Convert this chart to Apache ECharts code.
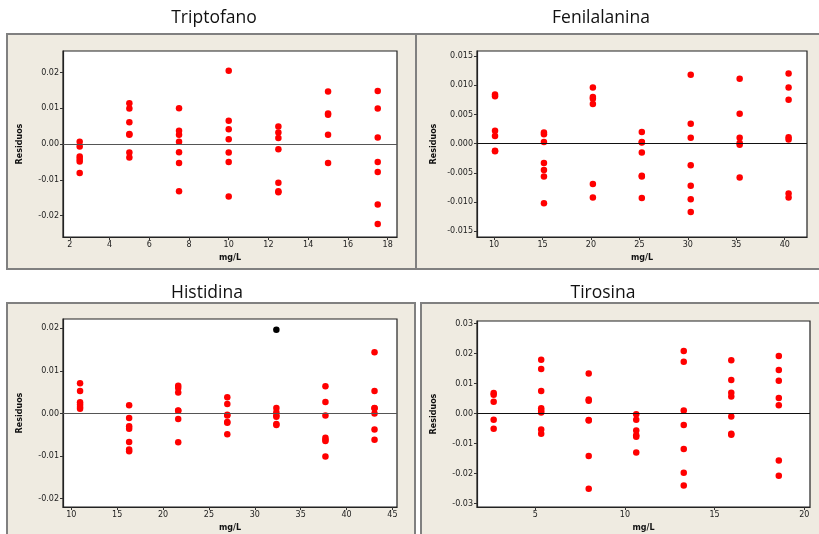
<!DOCTYPE html>
<html>
<head>
<meta charset="utf-8">
<script src="https://cdn.jsdelivr.net/npm/echarts@6/dist/echarts.min.js"></script>
<style>
  html, body { margin: 0; padding: 0; background: #ffffff; }
  #chart { width: 819px; height: 534px; }
</style>
</head>
<body>
<div id="chart"></div>
<script>
// Residual plots (residuos vs. concentración, mg/L) for four amino acids.

// Triptofano
const tripX = [2.5, 5, 7.5, 10, 12.5, 15, 17.5];
const tripRes = [
  [0.0006, -0.0007, -0.0035, -0.0042, -0.0049, -0.0081],
  [0.0114, 0.0099, 0.0061, 0.0028, 0.0026, -0.0024, -0.0038],
  [0.0100, 0.0037, 0.0026, 0.0006, -0.0023, -0.0053, -0.0132],
  [0.0205, 0.0065, 0.0041, 0.0013, -0.0024, -0.0050, -0.0147],
  [0.0049, 0.0032, 0.0017, -0.0015, -0.0108, -0.0132, -0.0135],
  [0.0147, 0.0085, 0.0082, 0.0026, -0.0053],
  [0.0148, 0.0099, 0.0018, -0.0050, -0.0078, -0.0169, -0.0224]
];
const tripXTicks = [2, 4, 6, 8, 10, 12, 14, 16, 18];
const tripYTicks = [-0.02, -0.01, 0, 0.01, 0.02];

// Fenilalanina
const fenX = [10.1, 15.15, 20.2, 25.25, 30.3, 35.35, 40.4];
const fenRes = [
  [0.0084, 0.0081, 0.0022, 0.0013, -0.0012, -0.0013],
  [0.0019, 0.0016, 0.0003, -0.0033, -0.0045, -0.0056, -0.0102],
  [0.0096, 0.0080, 0.0077, 0.0068, -0.0069, -0.0092],
  [0.0020, 0.0003, 0.0002, -0.0015, -0.0055, -0.0056, -0.0093],
  [0.0118, 0.0034, 0.0010, -0.0037, -0.0072, -0.0095, -0.0117],
  [0.0111, 0.0051, 0.0010, 0.0001, -0.0002, -0.0058],
  [0.0120, 0.0096, 0.0075, 0.0011, 0.0007, -0.0085, -0.0092]
];
const fenXTicks = [10, 15, 20, 25, 30, 35, 40];
const fenYTicks = [-0.015, -0.010, -0.005, 0, 0.005, 0.010, 0.015];

// Histidina
const hisX = [10.95, 16.3, 21.65, 27.0, 32.35, 37.7, 43.05];
const hisRes = [
  [0.0071, 0.0053, 0.0026, 0.0021, 0.0015, 0.0011],
  [0.0019, -0.0011, -0.0030, -0.0036, -0.0067, -0.0085, -0.0089],
  [0.0065, 0.0060, 0.0049, 0.0007, 0.0006, -0.0013, -0.0068],
  [0.0038, 0.0022, -0.0003, -0.0005, -0.0020, -0.0022, -0.0049],
  [0.0013, 0.0003, -0.0005, -0.0008, -0.0025, -0.0027],
  [0.0064, 0.0027, -0.0005, -0.0057, -0.0062, -0.0065, -0.0101],
  [0.0144, 0.0053, 0.0013, 0.0012, 0.0000, -0.0038, -0.0062]
];
// highlighted observation (black)
const hisOutlier = [32.35, 0.0197];
const hisXTicks = [10, 15, 20, 25, 30, 35, 40, 45];
const hisYTicks = [-0.02, -0.01, 0, 0.01, 0.02];

// Tirosina
const tirX = [2.68, 5.33, 7.98, 10.63, 13.28, 15.93, 18.58];
const tirRes = [
  [0.0069, 0.0063, 0.0040, -0.0020, -0.0050],
  [0.0180, 0.0149, 0.0076, 0.0018, 0.0011, 0.0004, -0.0053, -0.0067],
  [0.0134, 0.0047, 0.0043, -0.0021, -0.0023, -0.0141, -0.0250],
  [-0.0002, -0.0020, -0.0056, -0.0072, -0.0077, -0.0129],
  [0.0209, 0.0173, 0.0011, -0.0038, -0.0118, -0.0197, -0.0239],
  [0.0178, 0.0112, 0.0070, 0.0057, -0.0009, -0.0067, -0.0070],
  [0.0192, 0.0146, 0.0110, 0.0052, 0.0028, -0.0156, -0.0207]
];
const tirXTicks = [5, 10, 15, 20];
const tirYTicks = [-0.03, -0.02, -0.01, 0, 0.01, 0.02, 0.03];

const titles = ['Triptofano', 'Fenilalanina', 'Histidina', 'Tirosina'];

// ---- layout ----
const grids = [
  { left: 63, top: 51, width: 334, height: 186 },
  { left: 477, top: 51, width: 330, height: 186 },
  { left: 63, top: 319, width: 334, height: 188 },
  { left: 477, top: 321, width: 333, height: 186 }
];
const xRanges = [[1.66, 18.47], [8.24, 42.3], [9.09, 45.5], [1.75, 20.32]];
const yRanges = [[-0.026, 0.026], [-0.01596, 0.01585], [-0.022, 0.0222], [-0.0311, 0.0309]];
const xTicks = [tripXTicks, fenXTicks, hisXTicks, tirXTicks];
const yTicks = [tripYTicks, fenYTicks, hisYTicks, tirYTicks];
const yDigits = [2, 3, 2, 2];
const zeroLineColor = ['#555', '#111', '#555', '#111'];
const titlePos = [[214, 9], [601, 9], [207, 284], [603, 284]];

const pairs = (xs, groups) => {
  const out = [];
  groups.forEach((g, i) => g.forEach(v => out.push([xs[i], v])));
  return out;
};
const panelData = [
  pairs(tripX, tripRes),
  pairs(fenX, fenRes),
  pairs(hisX, hisRes),
  pairs(tirX, tirRes)
];

const tickFont = { fontFamily: 'DejaVu Sans', fontSize: 8, color: '#222' };
const nameFont = { fontFamily: 'DejaVu Sans', fontSize: 8, fontWeight: 'bold', color: '#111' };

const option = {
  animation: false,
  backgroundColor: '#ffffff',
  title: titles.map((t, i) => ({
    text: t,
    left: titlePos[i][0],
    top: titlePos[i][1],
    padding: 0,
    textAlign: 'center',
    textStyle: { fontFamily: 'Open Sans', fontSize: 17.5, fontWeight: 'normal', color: '#111' }
  })),
  graphic: [
    // beige panel frames
    { type: 'rect', z: -10, shape: { x: 7, y: 34, width: 409, height: 235 },
      style: { fill: '#efebe1', stroke: '#808080', lineWidth: 2 } },
    { type: 'rect', z: -10, shape: { x: 416, y: 34, width: 410, height: 235 },
      style: { fill: '#efebe1', stroke: '#808080', lineWidth: 2 } },
    { type: 'rect', z: -10, shape: { x: 7, y: 303, width: 408, height: 240 },
      style: { fill: '#efebe1', stroke: '#808080', lineWidth: 2 } },
    { type: 'rect', z: -10, shape: { x: 421, y: 303, width: 410, height: 240 },
      style: { fill: '#efebe1', stroke: '#808080', lineWidth: 2 } }
  ],
  grid: grids.map(g => Object.assign({
    show: true, backgroundColor: '#ffffff', borderColor: '#222', borderWidth: 1.2,
    containLabel: false
  }, g)),
  xAxis: grids.map((g, i) => ({
    type: 'value', gridIndex: i,
    min: xRanges[i][0], max: xRanges[i][1],
    name: 'mg/L', nameLocation: 'middle', nameGap: 17, nameTextStyle: nameFont,
    axisLine: { show: true, onZero: false, lineStyle: { color: '#222', width: 1.2 } },
    axisTick: { show: true, length: 3, customValues: xTicks[i], lineStyle: { color: '#333' } },
    axisLabel: Object.assign({ margin: 4, customValues: xTicks[i] }, tickFont),
    splitLine: { show: false }
  })),
  yAxis: grids.map((g, i) => ({
    type: 'value', gridIndex: i,
    min: yRanges[i][0], max: yRanges[i][1],
    name: 'Residuos', nameLocation: 'middle', nameGap: 39, nameTextStyle: nameFont,
    axisLine: { show: true, onZero: false, lineStyle: { color: '#222', width: 1.2 } },
    axisTick: { show: true, length: 3, customValues: yTicks[i], lineStyle: { color: '#333' } },
    axisLabel: Object.assign({
      margin: 4, customValues: yTicks[i],
      formatter: v => Number(v).toFixed(yDigits[i])
    }, tickFont),
    splitLine: { show: false }
  })),
  series: panelData.map((d, i) => ({
    type: 'scatter', xAxisIndex: i, yAxisIndex: i,
    data: d, symbolSize: 6.5,
    itemStyle: { color: '#ff0000', opacity: 1 },
    markLine: {
      silent: true, symbol: 'none', label: { show: false },
      lineStyle: { color: zeroLineColor[i], width: 1, type: 'solid' },
      data: [{ yAxis: 0 }]
    }
  })).concat([{
    type: 'scatter', xAxisIndex: 2, yAxisIndex: 2,
    data: [hisOutlier], symbolSize: 6.5,
    itemStyle: { color: '#000000', opacity: 1 }
  }])
};

const chart = echarts.init(document.getElementById('chart'), null, { renderer: 'canvas' });
chart.setOption(option);
</script>
</body>
</html>
